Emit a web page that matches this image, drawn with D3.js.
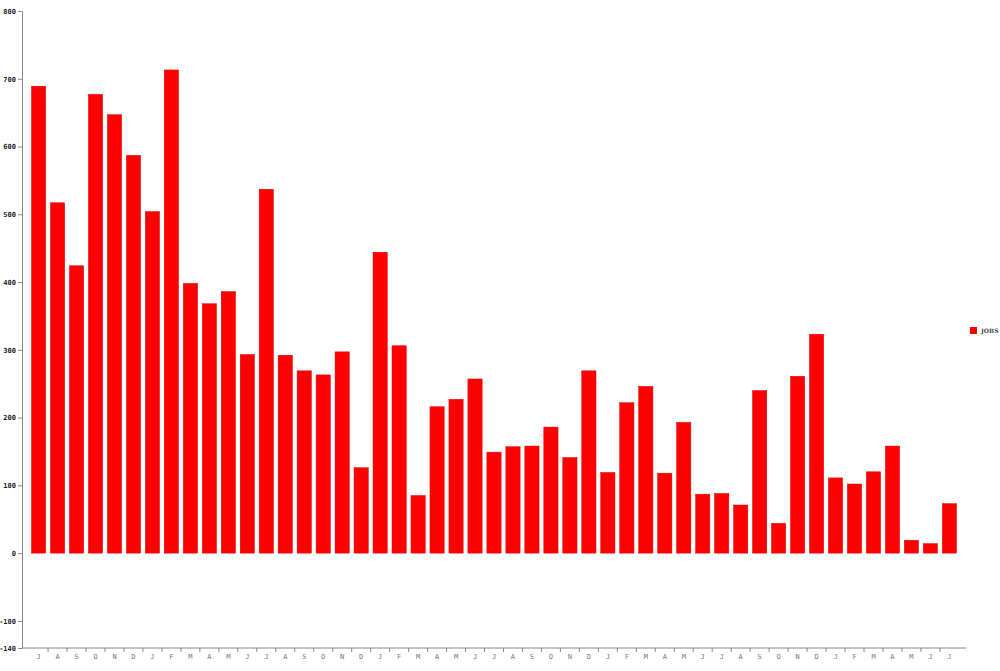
<!DOCTYPE html>
<html>
<head>
<meta charset="utf-8">
<script src="https://cdn.jsdelivr.net/npm/d3@7"></script>
<style>
  body { margin: 0; background: #fff; }
  svg { display: block; }
</style>
</head>
<body>
<svg id="chart" width="1000" height="671"></svg>
<script>
// monthly job counts, July .. July (49 months)
var months = ["J","A","S","O","N","D","J","F","M","A","M","J",
              "J","A","S","O","N","D","J","F","M","A","M","J",
              "J","A","S","O","N","D","J","F","M","A","M","J",
              "J","A","S","O","N","D","J","F","M","A","M","J",
              "J"];

var jobs = [689, 517, 424, 677, 647, 587, 504, 713, 398, 368, 386, 293,
            537, 292, 269, 263, 297, 126, 444, 306, 85, 216, 227, 257,
            149, 157, 158, 186, 141, 269, 119, 222, 246, 118, 193, 87,
            88, 71, 240, 44, 261, 323, 111, 102, 120, 158, 19, 14,
            73];

var yTicks = [800, 700, 600, 500, 400, 300, 200, 100, 0, -100, -140];

var seriesName = "JOBS";


var svg = d3.select('#chart');

var idx = d3.range(jobs.length);

var x = d3.scaleBand()
  .domain(idx)
  .range([22, 966])
  .paddingInner(0.25)
  .paddingOuter(0.5);

var y = d3.scaleLinear()
  .domain([-140, 800])
  .range([648, 11]);


// bars
svg.selectAll('rect.bar')
  .data(jobs)
  .enter().append('rect')
  .attr('class', 'bar')
  .attr('x', function (d, i) { return x(i); })
  .attr('y', function (d) { return y(Math.max(0, d)); })
  .attr('width', x.bandwidth())
  .attr('height', function (d) { return Math.abs(y(d) - y(0)); })
  .attr('fill', '#ff0000')
  .attr('stroke', '#e00000')
  .attr('stroke-width', 0.5);


// y axis (plain hyphen for negatives, like the original)
var yAxis = svg.append('g')
  .attr('transform', 'translate(22,0)')
  .call(d3.axisLeft(y).tickValues(yTicks).tickSize(4).tickPadding(2)
    .tickFormat(function (d) { return String(d); }));

yAxis.select('.domain').attr('stroke', '#888');
yAxis.selectAll('.tick line').attr('stroke', '#888');
yAxis.selectAll('.tick text')
  .attr('font-family', 'DejaVu Sans Mono, monospace')
  .attr('font-size', '7px')
  .attr('font-weight', 'bold')
  .attr('fill', '#222');


// x axis: labels under the bars, ticks in the gaps
var xAxis = svg.append('g')
  .attr('transform', 'translate(0,648)')
  .call(d3.axisBottom(x).tickSize(0).tickPadding(6)
    .tickFormat(function (i) { return months[i]; }));

xAxis.select('.domain')
  .attr('d', 'M22,0H966')
  .attr('stroke', '#888');
xAxis.selectAll('.tick text')
  .attr('font-family', 'DejaVu Sans Mono, monospace')
  .attr('font-size', '7px')
  .attr('fill', '#777');

xAxis.selectAll('line.sep')
  .data(idx.slice(1))
  .enter().append('line')
  .attr('class', 'sep')
  .attr('x1', function (i) { return x(i) - x.step() * x.paddingInner() / 2; })
  .attr('x2', function (i) { return x(i) - x.step() * x.paddingInner() / 2; })
  .attr('y1', 0)
  .attr('y2', 4)
  .attr('stroke', '#888');


// legend
var legend = svg.append('g')
  .attr('transform', 'translate(970,327)');

legend.append('rect')
  .attr('width', 7)
  .attr('height', 7)
  .attr('fill', '#ff0000');

legend.append('text')
  .attr('x', 11)
  .attr('y', 6)
  .attr('font-family', 'DejaVu Serif, serif')
  .attr('font-size', '6px')
  .attr('font-weight', 'bold')
  .attr('fill', '#444')
  .text(seriesName);
</script>
</body>
</html>
